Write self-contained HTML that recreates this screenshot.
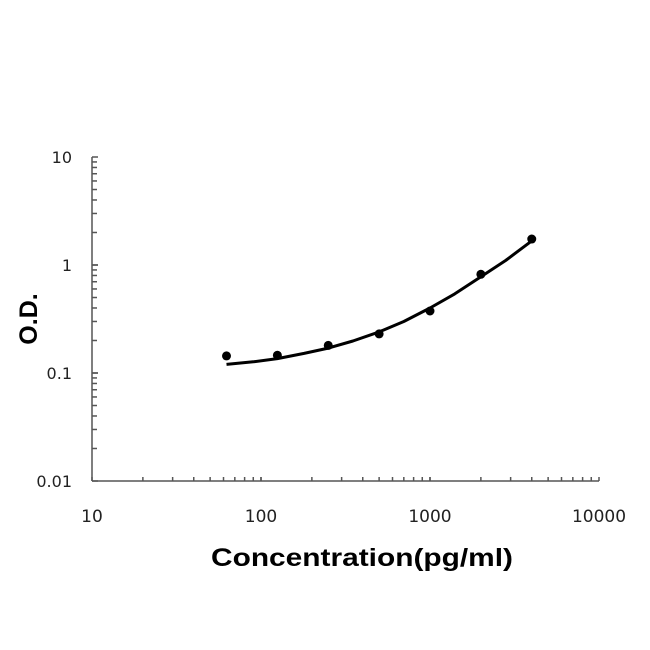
<!DOCTYPE html>
<html><head><meta charset="utf-8"><style>
body{margin:0;background:#fff;}
svg{display:block;font-family:"Liberation Sans",sans-serif;}
</style></head><body>
<svg id="chart" width="650" height="650"></svg>
<script>
const concentrations=[62.5,125,250,500,1000,2000,4000];
const odValues=[0.144,0.146,0.18,0.23,0.375,0.82,1.74];
const fitConc=[62.5,90,125,180,250,350,500,700,1000,1400,2000,2800,4000];
const fitOD=[0.12,0.127,0.136,0.152,0.17,0.198,0.24,0.3,0.40,0.54,0.78,1.1,1.67];
const xTickLabels=[10,100,1000,10000];
const yTickLabels=[10,1,0.1,0.01];
const NS='http://www.w3.org/2000/svg';
const svg=document.getElementById('chart');
const X0=92,X1=599,Y0=481,Y1=157;
function xs(v){return X0+(Math.log10(v)-1)/3*(X1-X0);}
function ys(v){return Y0-(Math.log10(v)+2)/3*(Y0-Y1);}
function mk(t,a,parent){const e=document.createElementNS(NS,t);for(const k in a)e.setAttribute(k,a[k]);(parent||svg).appendChild(e);return e;}
const axes=mk('g',{stroke:'#555','stroke-width':1.5,fill:'none'});


mk('line',{x1:X0,y1:Y1,x2:X0,y2:Y0},axes);
mk('line',{x1:X0,y1:Y0,x2:X1,y2:Y0},axes);
for(let d=-2;d<1;d++)for(let m=1;m<=10;m++){const v=m*Math.pow(10,d);const y=ys(v);mk('line',{x1:X0,y1:y,x2:X0+(m==1||m==10?6:5),y2:y},axes);}
for(let d=1;d<4;d++)for(let m=1;m<=10;m++){const v=m*Math.pow(10,d);const x=xs(v);mk('line',{x1:x,y1:Y0,x2:x,y2:Y0-4},axes);}
xTickLabels.forEach(v=>{const t=mk('text',{x:xs(v),y:522,'text-anchor':'middle','font-size':17,'font-family':'DejaVu Sans, sans-serif',fill:'#222'});t.textContent=v;

});
yTickLabels.forEach(v=>{const t=mk('text',{x:72,y:ys(v)+6,'text-anchor':'end','font-size':16,'font-family':'DejaVu Sans, sans-serif',fill:'#222'});t.textContent=v;

});
let d='';fitConc.forEach((c,i)=>{d+=(i?'L':'M')+xs(c).toFixed(1)+','+ys(fitOD[i]).toFixed(1);});
const path=mk('path',{d:d,stroke:'#000','stroke-width':3,fill:'none','stroke-linejoin':'round'});


concentrations.forEach((c,i)=>{const p=mk('circle',{cx:xs(c),cy:ys(odValues[i]),r:4.5,fill:'#000'});

});
const xt=mk('text',{x:211,y:566,'font-size':25,'font-weight':'bold',fill:'#000',textLength:302,lengthAdjust:'spacingAndGlyphs'});xt.textContent='Concentration(pg/ml)';


const yt=mk('text',{x:0,y:0,'text-anchor':'middle','font-size':25,'font-weight':'bold',fill:'#000',transform:'translate(37,319) rotate(-90)'});yt.textContent='O.D.';


</script>
</body></html>
